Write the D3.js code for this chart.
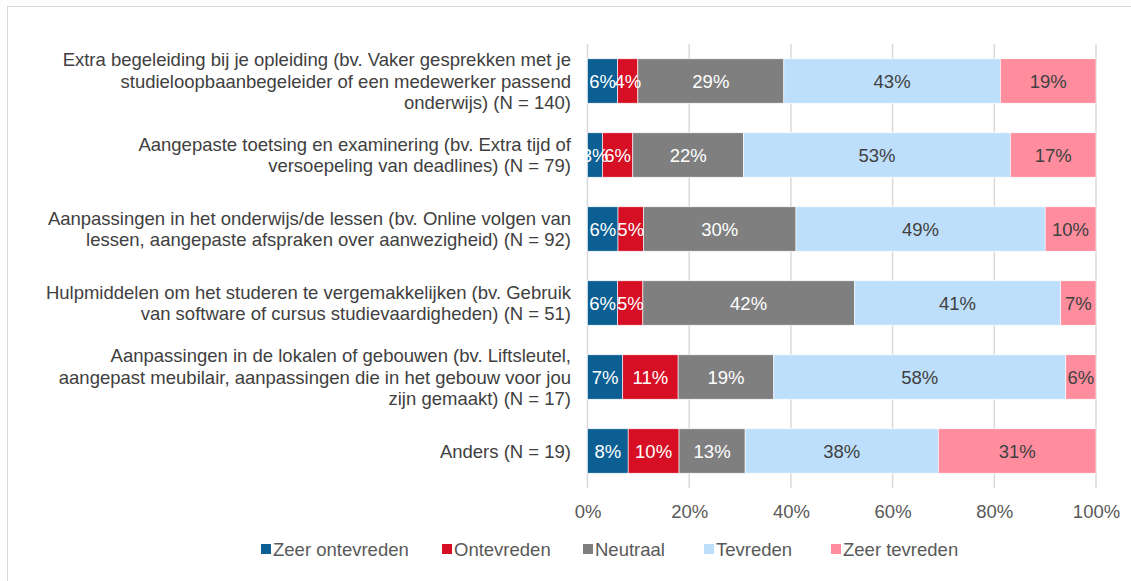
<!DOCTYPE html>
<html>
<head>
<meta charset="utf-8">
<script src="https://cdn.jsdelivr.net/npm/d3@7"></script>
<style>
  html, body { margin: 0; padding: 0; background: #fff; }
  svg { display: block; font-family: "Liberation Sans", Arial, sans-serif; }
</style>
</head>
<body>
<svg id="chart" width="1131" height="581"></svg>
<script>
// category labels, already broken into lines as in the original
const categories = [
  ["Extra begeleiding bij je opleiding (bv. Vaker gesprekken met je", "studieloopbaanbegeleider of een medewerker passend", "onderwijs) (N = 140)"],
  ["Aangepaste toetsing en examinering (bv. Extra tijd of", "versoepeling van deadlines) (N = 79)"],
  ["Aanpassingen in het onderwijs/de lessen (bv. Online volgen van", "lessen, aangepaste afspraken over aanwezigheid) (N = 92)"],
  ["Hulpmiddelen om het studeren te vergemakkelijken (bv. Gebruik", "van software of cursus studievaardigheden) (N = 51)"],
  ["Aanpassingen in de lokalen of gebouwen (bv. Liftsleutel,", "aangepast meubilair, aanpassingen die in het gebouw voor jou", "zijn gemaakt) (N = 17)"],
  ["Anders (N = 19)"]
];

const series = ["Zeer ontevreden", "Ontevreden", "Neutraal", "Tevreden", "Zeer tevreden"];

const zeerOntevreden = [6, 3, 6, 6, 7, 8];
const ontevreden     = [4, 6, 5, 5, 11, 10];
const neutraal       = [29, 22, 30, 42, 19, 13];
const tevreden       = [43, 53, 49, 41, 58, 38];
const zeerTevreden   = [19, 17, 10, 7, 6, 31];

const tickValues = [0, 0.2, 0.4, 0.6, 0.8, 1];

const colors = ["#0B5F93", "#D60F24", "#7F7F7F", "#BDDFFC", "#FF8D9E"];
const textColors = ["#fff", "#fff", "#fff", "#404040", "#404040"];

const svg = d3.select("#chart");
const width = 1131, height = 581;
const margin = { top: 44, left: 587.5, right: 35, bottom: 93 };
const fontSize = 18.5;

// outer border (runs off the right and bottom edges)
svg.append("rect")
  .attr("x", 7.5).attr("y", 6.5)
  .attr("width", 1200).attr("height", 700)
  .attr("fill", "none")
  .attr("stroke", "#D9D9D9")
  .attr("stroke-width", 1);

const rows = categories.map((c, i) => {
  const vals = [zeerOntevreden[i], ontevreden[i], neutraal[i], tevreden[i], zeerTevreden[i]];
  const total = d3.sum(vals);
  let acc = 0;
  const segs = vals.map((v, k) => {
    const s = { k, v, x0: acc / total, x1: (acc + v) / total };
    acc += v;
    return s;
  });
  return { i, lines: c, segs };
});

const x = d3.scaleLinear().domain([0, 1]).range([margin.left, 1096]);
const y = d3.scaleBand()
  .domain(d3.range(categories.length))
  .range([margin.top, height - margin.bottom])
  .paddingInner(0.4)
  .paddingOuter(0.2);

// gridlines
svg.append("g")
  .selectAll("line")
  .data(tickValues)
  .enter()
  .append("line")
  .attr("x1", d => x(d)).attr("x2", d => x(d))
  .attr("y1", margin.top).attr("y2", height - margin.bottom)
  .attr("stroke", "#D9D9D9")
  .attr("stroke-width", 1.5);

// x axis labels
const xAxis = d3.axisBottom(x)
  .tickValues(tickValues)
  .tickFormat(d3.format(".0%"))
  .tickSize(0)
  .tickPadding(0);
const gx = svg.append("g")
  .attr("transform", `translate(0, ${height - margin.bottom + 17})`)
  .call(xAxis);
gx.select(".domain").remove();
gx.selectAll("text")
  .attr("font-size", fontSize)
  .attr("font-family", "Liberation Sans, Arial, sans-serif")
  .attr("fill", "#595959");

// bars
const rowG = svg.append("g")
  .selectAll("g.row")
  .data(rows)
  .enter()
  .append("g")
  .attr("class", "row")
  .attr("transform", d => `translate(0, ${y(d.i)})`);

rowG.selectAll("rect")
  .data(d => d.segs)
  .enter()
  .append("rect")
  .attr("x", d => x(d.x0))
  .attr("width", d => x(d.x1) - x(d.x0))
  .attr("y", 0)
  .attr("height", y.bandwidth())
  .attr("fill", d => colors[d.k])
  .attr("stroke", "#fff")
  .attr("stroke-width", 0.6);

rowG.selectAll("text.val")
  .data(d => d.segs)
  .enter()
  .append("text")
  .attr("class", "val")
  .attr("x", d => (x(d.x0) + x(d.x1)) / 2)
  .attr("y", y.bandwidth() / 2)
  .attr("dy", "0.36em")
  .attr("text-anchor", "middle")
  .attr("font-size", fontSize)
  .attr("fill", d => textColors[d.k])
  .text(d => d.v + "%");

// category labels
const lineH = 21.3;
rowG.append("text")
  .attr("text-anchor", "end")
  .attr("font-size", fontSize)
  .attr("fill", "#404040")
  .each(function(d) {
    const n = d.lines.length;
    d3.select(this).selectAll("tspan")
      .data(d.lines)
      .enter()
      .append("tspan")
      .attr("x", 571)
      .attr("y", (l, j) => y.bandwidth() / 2 + (j - (n - 1) / 2) * lineH)
      .attr("dy", "0.36em")
      .text(l => l);
  });

// legend
const legendItems = [
  { name: series[0], x: 261 },
  { name: series[1], x: 442 },
  { name: series[2], x: 583 },
  { name: series[3], x: 704 },
  { name: series[4], x: 831 }
];
const lg = svg.append("g")
  .selectAll("g")
  .data(legendItems)
  .enter()
  .append("g")
  .attr("transform", d => `translate(${d.x}, 549)`);
lg.append("rect")
  .attr("x", 0).attr("y", -5)
  .attr("width", 10).attr("height", 10)
  .attr("fill", (d, i) => colors[i]);
lg.append("text")
  .attr("x", 12)
  .attr("dy", "0.36em")
  .attr("font-size", fontSize)
  .attr("fill", "#595959")
  .text(d => d.name);
</script>
</body>
</html>
